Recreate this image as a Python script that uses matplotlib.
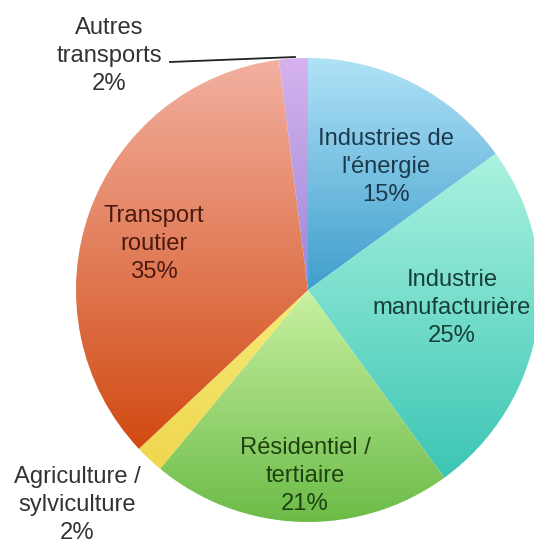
import matplotlib
matplotlib.use("Agg")
import matplotlib.pyplot as plt
import numpy as np
from matplotlib.colors import to_rgb

plt.rcParams["font.family"] = ["Liberation Sans", "DejaVu Sans"]

SECTORS = ["Industries de\nl'énergie", "Industrie\nmanufacturière", "Résidentiel /\ntertiaire",
           "Agriculture /\nsylviculture", "Transport\nroutier", "Autres\ntransports"]
SHARES = [15, 25, 21, 2, 35, 2]

# (top colour, bottom colour, label colour)
STYLE = [("#b0e2f7", "#3f9ecc", "#1c3a4c"),
         ("#aaf3df", "#3cc5b5", "#173f38"),
         ("#c9f1a2", "#6bbb47", "#1e4210"),
         ("#f6ec78", "#efd64e", "#333333"),
         ("#f3b0a0", "#d14a12", "#4a1a10"),
         ("#d6b2ee", "#9a88d8", "#333333")]

# label centres in pixel coords (x, y from top)
LABEL_POS = [(386, 167), (452, 308), (305, 476), (77, 505), (154, 244), (109, 56)]

W, H = 534, 546
CX, CY, R = 308, H - 290, 232

fig = plt.figure(figsize=(W / 100, H / 100), dpi=100)
ax = fig.add_axes([0, 0, 1, 1])

wedges, _ = ax.pie(SHARES, startangle=90, counterclock=False, center=(CX, CY), radius=R,
                   wedgeprops=dict(linewidth=0))
for w, (ctop, cbot, _) in zip(wedges, STYLE):
    w.set_facecolor("none")
    v = w.get_path().vertices
    x0, x1 = v[:, 0].min(), v[:, 0].max()
    y0, y1 = v[:, 1].min(), v[:, 1].max()
    t = np.linspace(0, 1, 256)[:, None]
    grad = (1 - t) * np.array(to_rgb(ctop)) + t * np.array(to_rgb(cbot))
    im = ax.imshow(grad[:, None, :], extent=(x0, x1, y0, y1), origin="upper",
                   aspect="auto", interpolation="bilinear", zorder=1)
    im.set_clip_path(w)

for name, share, (x, y), (_, _, tc) in zip(SECTORS, SHARES, LABEL_POS, STYLE):
    ax.text(x, H - y, f"{name}\n{share}%", ha="center", va="center", fontsize=17.1,
            color=tc, linespacing=1.37, zorder=3)

# leader line for the small top slice
ax.plot([170, 295], [H - 62, H - 57], color="#222222", lw=1.3, zorder=3)

ax.set_xlim(0, W)
ax.set_ylim(0, H)
ax.set_aspect("equal")
ax.axis("off")
fig.savefig("out.png", dpi=100)
